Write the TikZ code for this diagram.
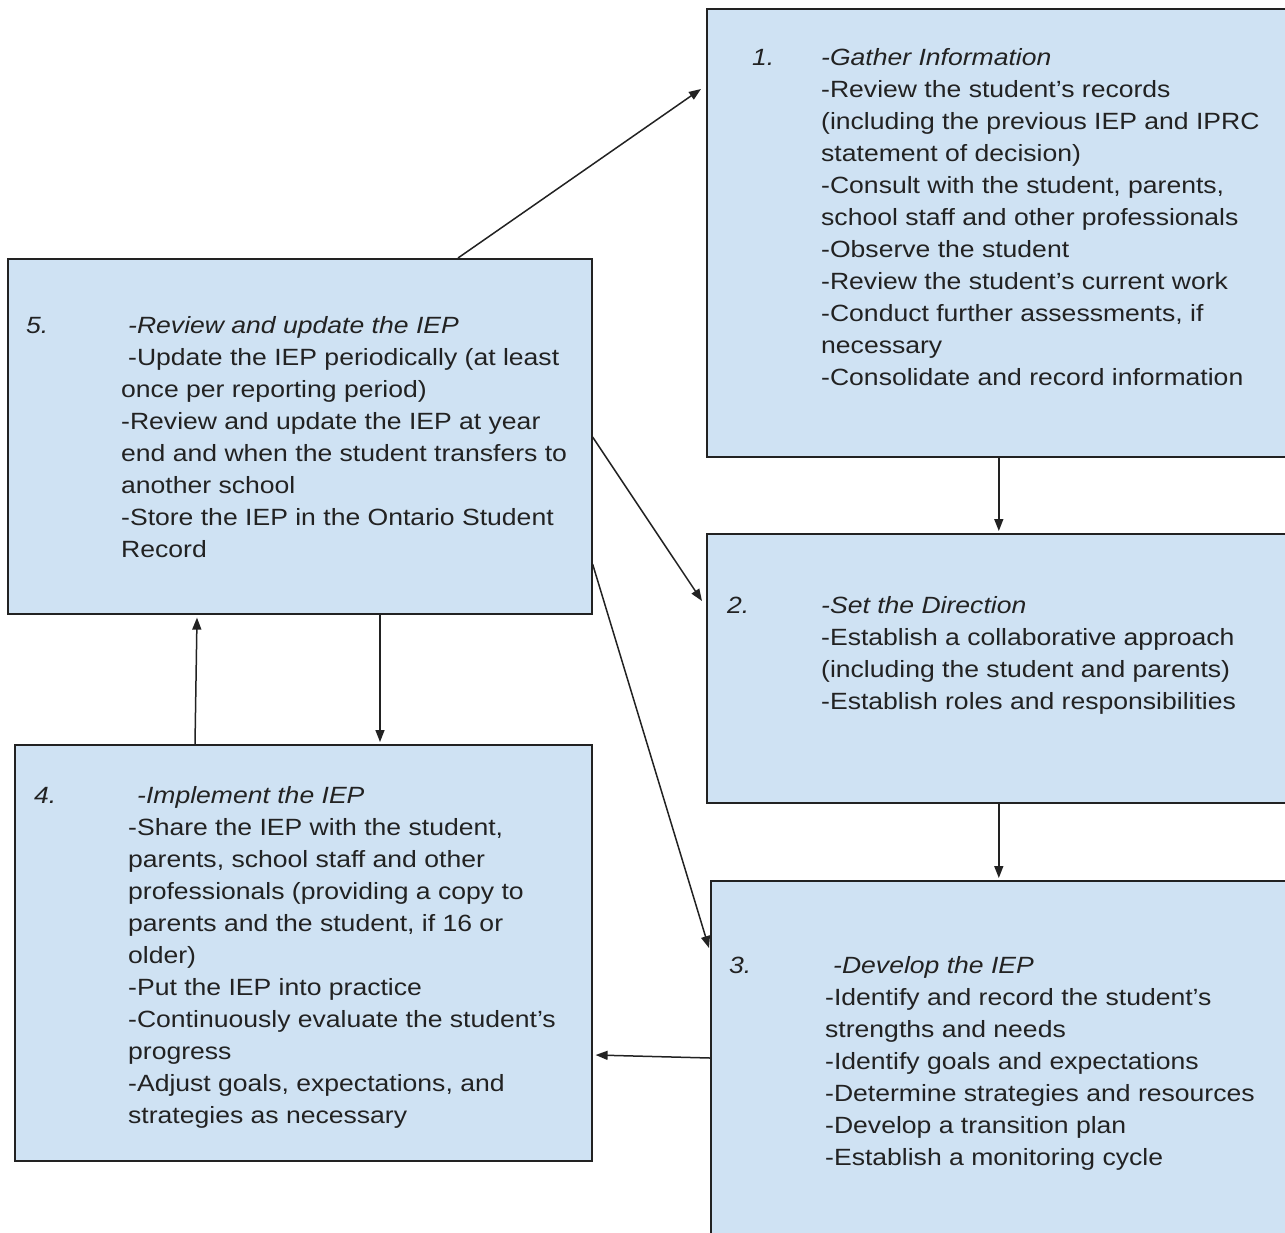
\documentclass[tikz,border=0pt]{standalone}
\usepackage{fontspec}
\setmainfont[FakeStretch=1.13]{Liberation Sans}
\usetikzlibrary{arrows.meta}

\definecolor{boxblue}{RGB}{207,226,243}
\definecolor{inkgray}{RGB}{34,34,34}

\tikzset{
    box/.style={draw=inkgray, line width=1.6pt, fill=boxblue, anchor=north west, inner sep=0pt},
    num/.style={anchor=base west, inner sep=0pt, text=inkgray, font=\fontsize{23.5}{32}\selectfont\itshape},
    % base of a multi-line body is the baseline of its last line
    body/.style={anchor=base west, inner sep=0pt, align=left, text=inkgray, font=\fontsize{23.5}{32}\selectfont},
    arr/.style={draw=inkgray, line width=1.5pt, -{Triangle[length=12pt,width=9pt]}},
}

\begin{document}
\begin{tikzpicture}[x=1pt, y=-1pt]
        \useasboundingbox (0,0) rectangle (1285,1232);
        \clip (0,0) rectangle (1285,1232);

        % boxes
        \node[box, minimum width=584, minimum height=448] (b1) at (706,8) {};
        \node[box, minimum width=584, minimum height=269] (b2) at (706,533) {};
        \node[box, minimum width=580, minimum height=370] (b3) at (710,880) {};
        \node[box, minimum width=577, minimum height=416] (b4) at (14,744) {};
        \node[box, minimum width=584, minimum height=355] (b5) at (7,258) {};

        % step 1 (first baseline 65, 11 lines)
        \node[num] (n1) at (752,65) {1.};
        \node[body] (t1) at (821,65+10*32) {\textit{-Gather Information}\\
            -Review the student’s records\\
            (including the previous IEP and IPRC\\
            statement of decision)\\
            -Consult with the student, parents,\\
            school staff and other professionals\\
            -Observe the student\\
            -Review the student’s current work\\
            -Conduct further assessments, if\\
            necessary\\
            -Consolidate and record information};

        % step 2
        \node[num] (n2) at (727,613) {2.};
        \node[body] (t2) at (821,613+3*32) {\textit{-Set the Direction}\\
            -Establish a collaborative approach\\
            (including the student and parents)\\
            -Establish roles and responsibilities};

        % step 3
        \node[num] (n3) at (729,973) {3.};
        \node[body] (t3) at (825,973+6*32) {\hspace{8pt}\textit{-Develop the IEP}\\
            -Identify and record the student’s\\
            strengths and needs\\
            -Identify goals and expectations\\
            -Determine strategies and resources\\
            -Develop a transition plan\\
            -Establish a monitoring cycle};

        % step 4
        \node[num] (n4) at (34,803) {4.};
        \node[body] (t4) at (128,803+10*32) {\hspace{9pt}\textit{-Implement the IEP}\\
            -Share the IEP with the student,\\
            parents, school staff and other\\
            professionals (providing a copy to\\
            parents and the student, if 16 or\\
            older)\\
            -Put the IEP into practice\\
            -Continuously evaluate the student’s\\
            progress\\
            -Adjust goals, expectations, and\\
            strategies as necessary};

        % step 5
        \node[num] (n5) at (26,333) {5.};
        \node[body] (t5) at (121,333+7*32) {\hspace{7pt}\textit{-Review and update the IEP}\\
            \hspace{7pt}-Update the IEP periodically (at least\\
            once per reporting period)\\
            -Review and update the IEP at year\\
            end and when the student transfers to\\
            another school\\
            -Store the IEP in the Ontario Student\\
            Record};

        % arrows
        \draw[arr] ([xshift=451pt]b5.north west) -- ([xshift=-5pt,yshift=-81pt]b1.north west);
        \draw[arr] (b1.south) -- ([yshift=2pt]b2.north);
        \draw[arr] ([yshift=-179pt]b5.north east) -- ([xshift=-4pt,yshift=-68pt]b2.north west);
        \draw[arr] ([yshift=-306pt]b5.north east) -- ([xshift=-1pt,yshift=-68pt]b3.north west);
        \draw[arr] (b2.south) -- ([yshift=2pt]b2.south |- b3.north);
        \draw[arr] ([yshift=-178pt]b3.north west) -- ([xshift=3pt,yshift=-311pt]b4.north east);
        \draw[arr] ([xshift=181pt]b4.north west) -- ([xshift=190pt,yshift=-3pt]b5.south west);
        \draw[arr] ([xshift=373pt]b5.south west) -- ([xshift=366pt,yshift=2pt]b4.north west);
\end{tikzpicture}
\end{document}
